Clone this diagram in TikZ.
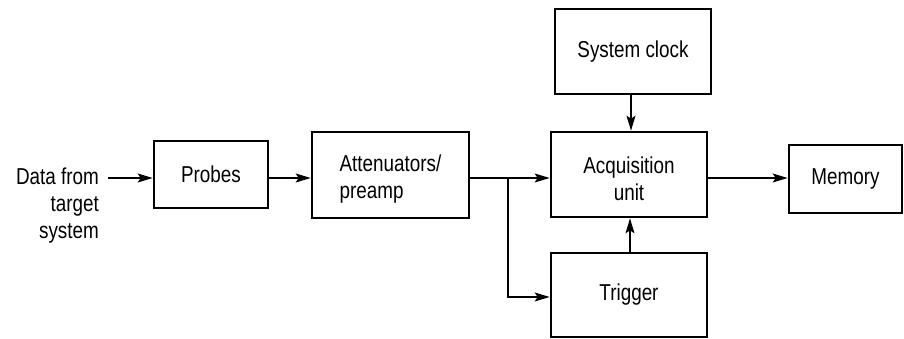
\documentclass[tikz,border=0pt]{standalone}
\usepackage{fontspec}
\setmainfont{Liberation Sans}[FakeStretch=0.82]
\usetikzlibrary{arrows.meta}
\newcommand{\topgap}{\rule{0pt}{25pt}}
\begin{document}
\begin{tikzpicture}[x=1pt,y=-1pt,
  blk/.style={draw,line width=2.7pt,inner sep=0pt,font=\fontsize{23}{27}\selectfont},
  conn/.style={line width=1.2pt,-{Stealth[length=15pt,width=9pt,inset=3pt]}},
  lbl/.style={inner sep=0pt,font=\fontsize{23}{27}\selectfont}]
\useasboundingbox (0,0) rectangle (904,339);
\node[blk,minimum width=114pt,minimum height=67pt] (probes) at (211,174.5) {Probes};
\node[blk,minimum width=157pt,minimum height=86pt,align=left] (att) at (390.5,175) {\topgap Attenuators/\\preamp};
\node[blk,minimum width=156pt,minimum height=85pt] (clock) at (633,51.5) {System clock};
\node[blk,minimum width=156pt,minimum height=85pt,align=center] (acq) at (629,174.5) {\topgap Acquisition\\unit};
\node[blk,minimum width=156pt,minimum height=84pt] (trig) at (629,295) {Trigger};
\node[blk,minimum width=113pt,minimum height=68pt] (mem) at (845.5,179) {Memory};
\node[lbl,align=right,anchor=east] (data) at (99,206) {Data from\\target\\system};
\coordinate (main) at (0,178);
\coordinate (start) at (108,178);
\coordinate (branch) at (508,178);
\draw[conn] (start) -- (probes.west |- main);
\draw[conn] (probes.east |- main) -- (att.west |- main);
\draw[conn] (att.east |- main) -- (acq.west |- main);
\draw[conn] (branch) |- (trig.west |- 0,297);
\draw[conn] (clock.south -| 631,0) -- (acq.north -| 631,0);
\draw[conn] (trig.north -| 630,0) -- (acq.south -| 630,0);
\draw[conn] (acq.east |- main) -- (mem.west |- main);
\end{tikzpicture}
\end{document}
